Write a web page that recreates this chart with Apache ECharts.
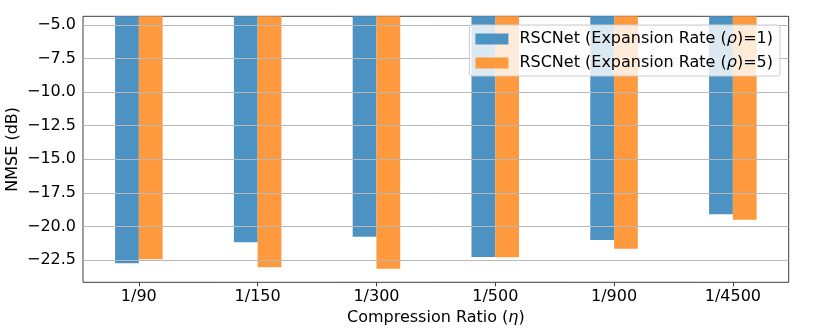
<!DOCTYPE html>
<html>
<head>
<meta charset="utf-8">
<script src="https://cdn.jsdelivr.net/npm/echarts@6/dist/echarts.min.js"></script>
<style>
    html, body { margin: 0; padding: 0; background: #fff; }
    #chart { width: 830px; height: 332px; }
</style>
</head>
<body>
<div id="chart"></div>
<script>
const categories = ["1/90", "1/150", "1/300", "1/500", "1/900", "1/4500"];
const rho1Values = [-22.75, -21.18, -20.76, -22.28, -21.01, -19.1];
const rho5Values = [-22.45, -23.04, -23.15, -22.3, -21.66, -19.5];
const yTicks = [-22.5, -20, -17.5, -15, -12.5, -10, -7.5, -5];
const seriesNames = ["RSCNet (Expansion Rate (ρ)=1)", "RSCNet (Expansion Rate (ρ)=5)"];

const FONT = "DejaVu Sans";
const xIndex = categories.map((c, i) => i);

const chart = echarts.init(document.getElementById("chart"));

const option = {
    animation: false,
    textStyle: { fontFamily: FONT },
    grid: {
        left: 83,
        right: 41.3,
        top: 16.3,
        bottom: 49.7,
        outerBoundsMode: "none",
        containLabel: false,
        show: true,
        borderColor: "#3c3c3c",
        borderWidth: 1,
        backgroundColor: "transparent",
    },
    legend: {
        right: 50,
        top: 25,
        orient: "vertical",
        align: "left",
        itemWidth: 33,
        itemHeight: 11,
        itemGap: 8,
        padding: [6, 7, 5, 6],
        icon: "rect",
        z: 10,
        backgroundColor: "rgba(255,255,255,0.8)",
        borderColor: "#cccccc",
        borderWidth: 1,
        borderRadius: 3,
        data: seriesNames,
        formatter: (name) => name.replace("ρ", "{i|ρ}"),
        textStyle: {
            fontFamily: FONT,
            fontSize: 16,
            color: "#000",
            padding: [0, 0, 0, 6],
            rich: { i: { fontFamily: FONT, fontSize: 16, fontStyle: "italic", color: "#000" } },
        },
    },
    xAxis: {
        type: "value",
        min: -0.47,
        max: 5.47,
        name: "Compression Ratio ({i|η})",
        nameLocation: "middle",
        nameGap: 28,
        nameMoveOverlap: false,
        nameTextStyle: {
            fontFamily: FONT,
            fontSize: 16,
            color: "#000",
            rich: { i: { fontFamily: FONT, fontSize: 16, fontStyle: "italic", color: "#000" } },
        },
        axisLine: { show: false },
        splitLine: { show: false },
        axisTick: {
            show: true,
            inside: false,
            length: 4,
            customValues: xIndex,
            lineStyle: { color: "#3c3c3c", width: 1 },
        },
        axisLabel: {
            customValues: xIndex,
            margin: 7,
            fontFamily: FONT,
            fontSize: 16,
            color: "#000",
            formatter: (v) => categories[Math.round(v)] ?? "",
        },
    },
    yAxis: {
        type: "value",
        min: -24.16,
        max: -4.35,
        name: "NMSE (dB)",
        nameLocation: "middle",
        nameGap: 62,
        nameMoveOverlap: false,
        nameTextStyle: { fontFamily: FONT, fontSize: 16, color: "#000" },
        axisLine: { show: false },
        splitLine: { show: false },
        axisTick: {
            show: true,
            inside: false,
            length: 4,
            customValues: yTicks,
            lineStyle: { color: "#3c3c3c", width: 1 },
        },
        axisLabel: {
            customValues: yTicks,
            margin: 7,
            fontFamily: FONT,
            fontSize: 16,
            color: "#000",
            formatter: (v) => v.toFixed(1).replace("-", "\u2212"),
        },
    },
    series: [
        {
            name: seriesNames[0],
            type: "bar",
            barWidth: "20%",
            barGap: "0%",
            clip: true,
            itemStyle: { color: "#4c92c3" },
            data: rho1Values.map((v, i) => [i, v]),
        },
        {
            name: seriesNames[1],
            type: "bar",
            barWidth: "20%",
            barGap: "0%",
            clip: true,
            itemStyle: { color: "#ff993e" },
            data: rho5Values.map((v, i) => [i, v]),
            // horizontal grid lines, drawn over the bars like matplotlib
            markLine: {
                silent: true,
                symbol: "none",
                label: { show: false },
                z: 5,
                lineStyle: { color: "#b8b8b8", width: 1, type: "solid" },
                data: yTicks.map((t) => ({ yAxis: t })),
            },
        },
    ],
};

chart.setOption(option);
</script>
</body>
</html>
